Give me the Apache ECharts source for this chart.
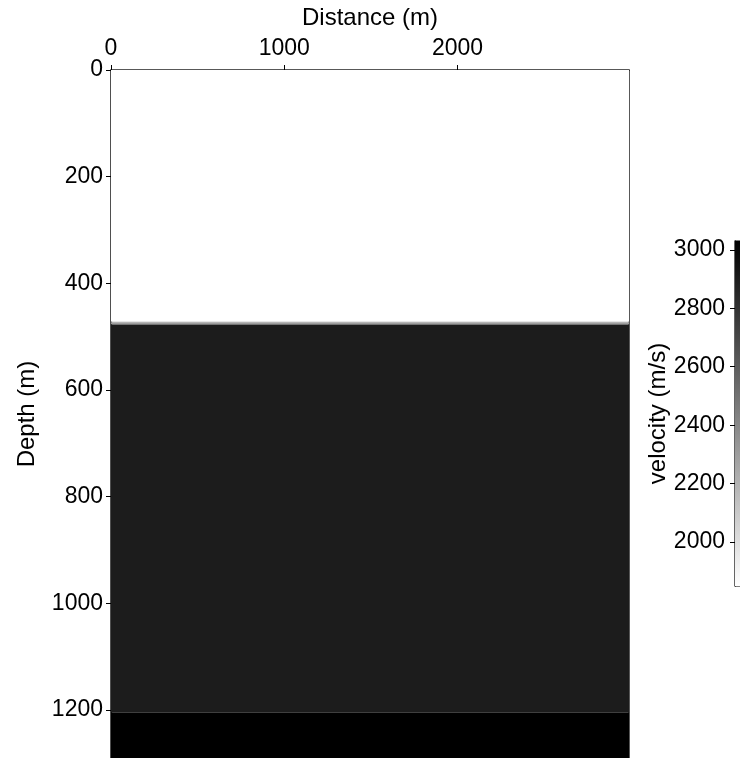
<!DOCTYPE html>
<html>
<head>
<meta charset="utf-8">
<script src="https://cdn.jsdelivr.net/npm/echarts@6/dist/echarts.min.js"></script>
<style>
html,body{margin:0;padding:0;background:#fff;}
#chart{width:740px;height:758px;}
</style>
</head>
<body>
<div id="chart"></div>
<script>
// Data
var distanceMax = 2990;          // m
var depthMax = 1290;             // m (visible part)
var bandTops =    [0,    471,  473,  477,  1205];
var bandBottoms = [471,  473,  477,  1205, 1290];
var bandVel =     [1850, 2000, 2300, 2900, 3030];
var velMin = 1850, velMax = 3030;
var xTicks = [0, 1000, 2000];
var depthTicks = [0, 200, 400, 600, 800, 1000, 1200];
var velTicks = [2000, 2200, 2400, 2600, 2800, 3000];

var FONT = 'Liberation Sans, Arial, sans-serif';
var TICK_FS = 23, NAME_FS = 24;
var chart = echarts.init(document.getElementById('chart'), null, {renderer: 'canvas'});

var bands = bandTops.map(function (t, i) { return [t, bandBottoms[i], bandVel[i]]; });

function grayOf(v) {
  var f = (v - velMin) / (velMax - velMin);
  var g = Math.round(255 * (1 - f));
  return 'rgb(' + g + ',' + g + ',' + g + ')';
}
function plain(v) { return String(v); }

var option = {
  animation: false,
  backgroundColor: '#fff',
  grid: [
    {left: 111, top: 70, width: 518, bottom: 0, show: true, borderColor: '#222', borderWidth: 1.5,
     backgroundColor: 'transparent', containLabel: false, outerBoundsMode: 'none'},
    {left: 735, top: 241, width: 30, height: 345, show: true, borderColor: '#000', borderWidth: 1.2,
     containLabel: false, outerBoundsMode: 'none'}
  ],
  xAxis: [
    {
      gridIndex: 0, type: 'value', position: 'top', min: 0, max: distanceMax,
      splitLine: {show: false},
      axisLine: {show: true, lineStyle: {color: '#000', width: 1.2}},
      axisTick: {show: true, inside: false, length: 5, customValues: xTicks, lineStyle: {color: '#000'}},
      axisLabel: {show: true, customValues: xTicks, formatter: plain, fontSize: TICK_FS, color: '#000', fontFamily: FONT, margin: 10},
      name: 'Distance (m)', nameLocation: 'middle', nameGap: 40,
      nameTextStyle: {fontSize: NAME_FS, color: '#000', fontFamily: FONT}
    },
    {
      gridIndex: 1, type: 'value', min: 0, max: 1, show: false
    }
  ],
  yAxis: [
    {
      gridIndex: 0, type: 'value', inverse: true, min: 0, max: depthMax,
      splitLine: {show: false},
      axisLine: {show: true, lineStyle: {color: '#000', width: 1.2}},
      axisTick: {show: true, length: 5, customValues: depthTicks, lineStyle: {color: '#000'}},
      axisLabel: {show: true, customValues: depthTicks, formatter: plain, fontSize: TICK_FS, color: '#000', fontFamily: FONT, margin: 8},
      name: 'Depth (m)', nameLocation: 'middle', nameGap: 72, nameRotate: 90,
      nameTextStyle: {fontSize: NAME_FS, color: '#000', fontFamily: FONT}
    },
    {
      gridIndex: 1, type: 'value', min: velMin, max: velMax, position: 'left',
      splitLine: {show: false},
      axisLine: {show: true, lineStyle: {color: '#000'}},
      axisTick: {show: true, length: 5, customValues: velTicks, lineStyle: {color: '#000'}},
      axisLabel: {show: true, customValues: velTicks, formatter: plain, fontSize: TICK_FS, color: '#000', fontFamily: FONT, margin: 10},
      name: 'velocity (m/s)', nameLocation: 'middle', nameGap: 64, nameRotate: 90,
      nameTextStyle: {fontSize: NAME_FS, color: '#000', fontFamily: FONT}
    }
  ],
  series: [
    {
      type: 'custom', xAxisIndex: 0, yAxisIndex: 0, clip: true,
      data: bands,
      renderItem: function (params, api) {
        var p1 = api.coord([0, api.value(0)]);
        var p2 = api.coord([distanceMax, api.value(1)]);
        return {
          type: 'rect',
          shape: {x: p1[0], y: p1[1], width: p2[0] - p1[0], height: p2[1] - p1[1]},
          style: {fill: grayOf(api.value(2))}
        };
      },
      z: 1
    },
    {
      type: 'custom', xAxisIndex: 1, yAxisIndex: 1, clip: true,
      data: [[velMin, velMax]],
      renderItem: function (params, api) {
        var p1 = api.coord([0, api.value(1)]);
        var p2 = api.coord([1, api.value(0)]);
        return {
          type: 'rect',
          shape: {x: p1[0], y: p1[1], width: p2[0] - p1[0], height: p2[1] - p1[1]},
          style: {fill: new echarts.graphic.LinearGradient(0, 0, 0, 1, [
            {offset: 0, color: grayOf(velMax)},
            {offset: 1, color: grayOf(velMin)}
          ])}
        };
      },
      z: 1
    }
  ]
};
chart.setOption(option);
</script>
</body>
</html>
